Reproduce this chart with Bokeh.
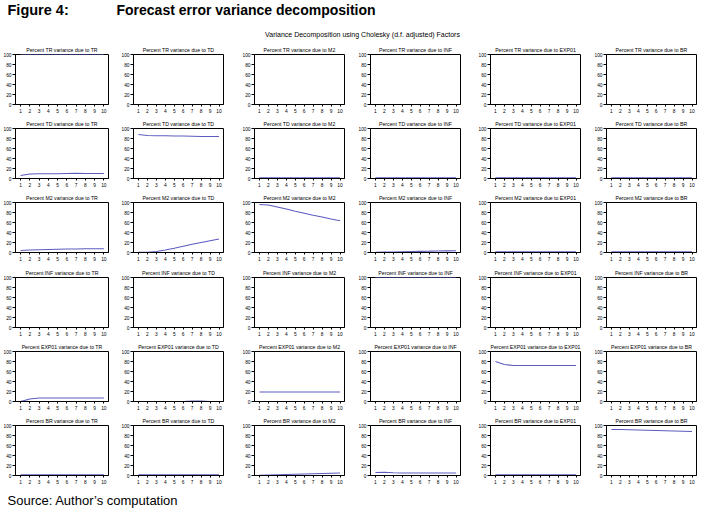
from bokeh.plotting import figure
from bokeh.layouts import gridplot, column
from bokeh.models import Range1d, FixedTicker
from bokeh.embed import file_html
from bokeh.resources import INLINE
from bokeh.core.properties import value

# ---------------- data ----------------
periods = [1, 2, 3, 4, 5, 6, 7, 8, 9, 10]
variables = ["TR", "TD", "M2", "INF", "EXP01", "BR"]
x_ticks = [1, 2, 3, 4, 5, 6, 7, 8, 9, 10]
y_ticks = [0, 20, 40, 60, 80, 100]

# response: TR
TR_due_TR = [100, 100, 100, 100, 100, 100, 100, 100, 100, 100]
TR_due_TD = [0, 0, 0, 0, 0, 0, 0, 0, 0, 0]
TR_due_M2 = [0, 0, 0, 0, 0, 0, 0, 0, 0, 0]
TR_due_INF = [0, 0, 0, 0, 0, 0, 0, 0, 0, 0]
TR_due_EXP01 = [0, 0, 0, 0, 0, 0, 0, 0, 0, 0]
TR_due_BR = [0, 0, 0, 0, 0, 0, 0, 0, 0, 0]
# response: TD
TD_due_TR = [6, 9, 9.5, 9.5, 9.5, 10, 10.5, 10, 10, 10]
TD_due_TD = [88, 86, 85.5, 85.5, 85, 85, 84.5, 84, 84, 84]
TD_due_M2 = [1.2, 1.2, 1.3, 1.3, 1.4, 1.4, 1.4, 1.5, 1.5, 1.5]
TD_due_INF = [1.2, 1.2, 1.2, 1.3, 1.3, 1.3, 1.3, 1.3, 1.3, 1.3]
TD_due_EXP01 = [1.2, 1.2, 1.2, 1.2, 1.2, 1.2, 1.2, 1.2, 1.2, 1.2]
TD_due_BR = [1.2, 1.2, 1.2, 1.2, 1.2, 1.2, 1.2, 1.2, 1.2, 1.2]
# response: M2
M2_due_TR = [4, 5, 5.5, 6, 6.5, 7, 7, 7.5, 7.5, 7.5]
M2_due_TD = [0.3, 0.5, 2, 5, 8.5, 12.5, 16.5, 20, 23.5, 27]
M2_due_M2 = [96, 95, 91, 87, 82.5, 78.5, 74.5, 71, 67, 63.5]
M2_due_INF = [0.5, 0.8, 1, 1.5, 2, 2.3, 2.6, 3, 3.3, 3.5]
M2_due_EXP01 = [1.2, 1.2, 1.2, 1.2, 1.2, 1.2, 1.2, 1.2, 1.2, 1.2]
M2_due_BR = [1.2, 1.2, 1.5, 1.2, 1.2, 1.5, 1.2, 1.2, 1.2, 1.2]
# response: INF
INF_due_TR = [0, 0, 0, 0, 0, 0, 0, 0, 0, 0]
INF_due_TD = [0, 0, 0, 0, 0, 0, 0, 0, 0, 0]
INF_due_M2 = [0, 0, 0, 0, 0, 0, 0, 0, 0, 0]
INF_due_INF = [100, 100, 100, 100, 100, 100, 100, 100, 100, 100]
INF_due_EXP01 = [0, 0, 0, 0, 0, 0, 0, 0, 0, 0]
INF_due_BR = [0, 0, 0, 0, 0, 0, 0, 0, 0, 0]
# response: EXP01
EXP01_due_TR = [0, 5, 7, 7, 7, 7, 7, 7, 7, 7]
EXP01_due_TD = [0, 0, 0, 0, 0, 0, 1, 1, 0, 0]
EXP01_due_M2 = [19, 19, 19, 19, 19, 19, 19, 19, 19, 19]
EXP01_due_INF = [0, 0, 0, 0, 0, 0, 0, 0, 0, 0]
EXP01_due_EXP01 = [80, 74, 72, 72, 72, 72, 72, 72, 72, 72]
EXP01_due_BR = [0, 0, 0, 0, 0, 0, 0, 0, 0, 0]
# response: BR
BR_due_TR = [1.2, 1.2, 1.2, 1.2, 1.2, 1.2, 1.2, 1.2, 1.2, 1.2]
BR_due_TD = [1.2, 1.2, 1.2, 1.2, 1.2, 1.2, 1.2, 1.2, 1.2, 1.2]
BR_due_M2 = [0.5, 1, 1.5, 2, 2.5, 3, 3.5, 4, 4.5, 5]
BR_due_INF = [6, 6.5, 5.5, 5, 5, 5, 5, 5, 5, 5]
BR_due_EXP01 = [1.2, 1.2, 1.2, 1.2, 1.2, 1.2, 1.2, 1.2, 1.2, 1.2]
BR_due_BR = [92, 92, 91.5, 91, 90.5, 90, 89.5, 89, 88.5, 88]

decomposition = {
    "TR": [TR_due_TR, TR_due_TD, TR_due_M2, TR_due_INF, TR_due_EXP01, TR_due_BR],
    "TD": [TD_due_TR, TD_due_TD, TD_due_M2, TD_due_INF, TD_due_EXP01, TD_due_BR],
    "M2": [M2_due_TR, M2_due_TD, M2_due_M2, M2_due_INF, M2_due_EXP01, M2_due_BR],
    "INF": [INF_due_TR, INF_due_TD, INF_due_M2, INF_due_INF, INF_due_EXP01, INF_due_BR],
    "EXP01": [EXP01_due_TR, EXP01_due_TD, EXP01_due_M2, EXP01_due_INF, EXP01_due_EXP01, EXP01_due_BR],
    "BR": [BR_due_TR, BR_due_TD, BR_due_M2, BR_due_INF, BR_due_EXP01, BR_due_BR],
}

FONT = "Liberation Sans"
LINE_COLOR = "#5c5cc0"
TOTAL_W = 701
# panel geometry (left border, right border) per column, bottom border per row
COL_BORDERS = [(15, 10), (12, 16), (12, 11), (12, 15), (12, 11), (12, 5)]
FRAME_W = 93
ROW_BOTTOM = [12, 12, 13, 12, 12, 12]


def panel(resp, shock, r, c):
    lb, rb = COL_BORDERS[c]
    p = figure(width=lb + FRAME_W + rb, height=12 + 50 + ROW_BOTTOM[r],
               x_range=Range1d(0.45, 10.5), y_range=Range1d(0, 100),
               output_backend="svg", toolbar_location=None,
               min_border_left=lb, min_border_right=rb,
               min_border_top=12, min_border_bottom=ROW_BOTTOM[r],
               title=f"Percent {resp} variance due to {shock}")
    p.title.text_font = FONT
    p.title.text_font_size = "5.2px"
    p.title.text_font_style = "normal"
    p.title.text_color = "black"
    p.title.align = "center"
    p.title.standoff = 4
    p.background_fill_color = "white"
    p.border_fill_color = "white"
    p.outline_line_color = "black"
    p.outline_line_width = 1
    p.outline_line_alpha = 1
    p.xgrid.visible = False
    p.ygrid.visible = False
    p.xaxis.ticker = FixedTicker(ticks=x_ticks)
    p.yaxis.ticker = FixedTicker(ticks=y_ticks)
    for ax in (p.xaxis, p.yaxis):
        ax.axis_line_color = "black"
        ax.major_tick_line_color = "black"
        ax.minor_tick_line_color = None
        ax.major_tick_in = 0
        ax.major_label_text_font = FONT
        ax.major_label_text_font_size = "4.8px"
        ax.major_label_text_color = "black"
    p.xaxis.major_tick_out = 2
    p.xaxis.major_label_standoff = 2
    p.yaxis.major_tick_out = 3
    p.yaxis.major_label_standoff = 1
    vals = decomposition[resp][variables.index(shock)]
    p.line(periods, vals, line_color=LINE_COLOR, line_width=1.2)
    return p


rows = []
for r, resp in enumerate(variables):
    rows.append([panel(resp, shock, r, c) for c, shock in enumerate(variables)])
grid = gridplot(rows, toolbar_location=None)


def text_fig(h):
    f = figure(width=TOTAL_W, height=h, x_range=Range1d(0, TOTAL_W), y_range=Range1d(h, 0),
               output_backend="svg", toolbar_location=None,
               min_border=0, min_border_left=0, min_border_right=0,
               min_border_top=0, min_border_bottom=0)
    f.axis.visible = False
    f.grid.visible = False
    f.outline_line_color = None
    f.background_fill_color = "white"
    f.border_fill_color = "white"
    return f


header = text_fig(42)
header.text(x=[7], y=[9.5], text=["Figure 4:"], text_font=value(FONT),
            text_font_style="bold", text_font_size="14.5px", text_baseline="middle",
            text_color="black")
header.text(x=[116], y=[9.5], text=["Forecast error variance decomposition"],
            text_font=value(FONT), text_font_style="bold",
            text_font_size="14px", text_baseline="middle", text_color="black")
header.text(x=[362], y=[34], text=["Variance Decomposition using Cholesky (d.f. adjusted) Factors"],
            text_font=value(FONT), text_font_size="7px", text_align="center",
            text_baseline="middle", text_color="black")

footer = text_fig(30)
footer.text(x=[7], y=[13], text=["Source: Author\u2019s computation"], text_font=value(FONT),
            text_font_size="13px", text_baseline="middle", text_color="black")

layout = column(header, grid, footer)

open("out.html", "w").write(file_html(layout, INLINE))
